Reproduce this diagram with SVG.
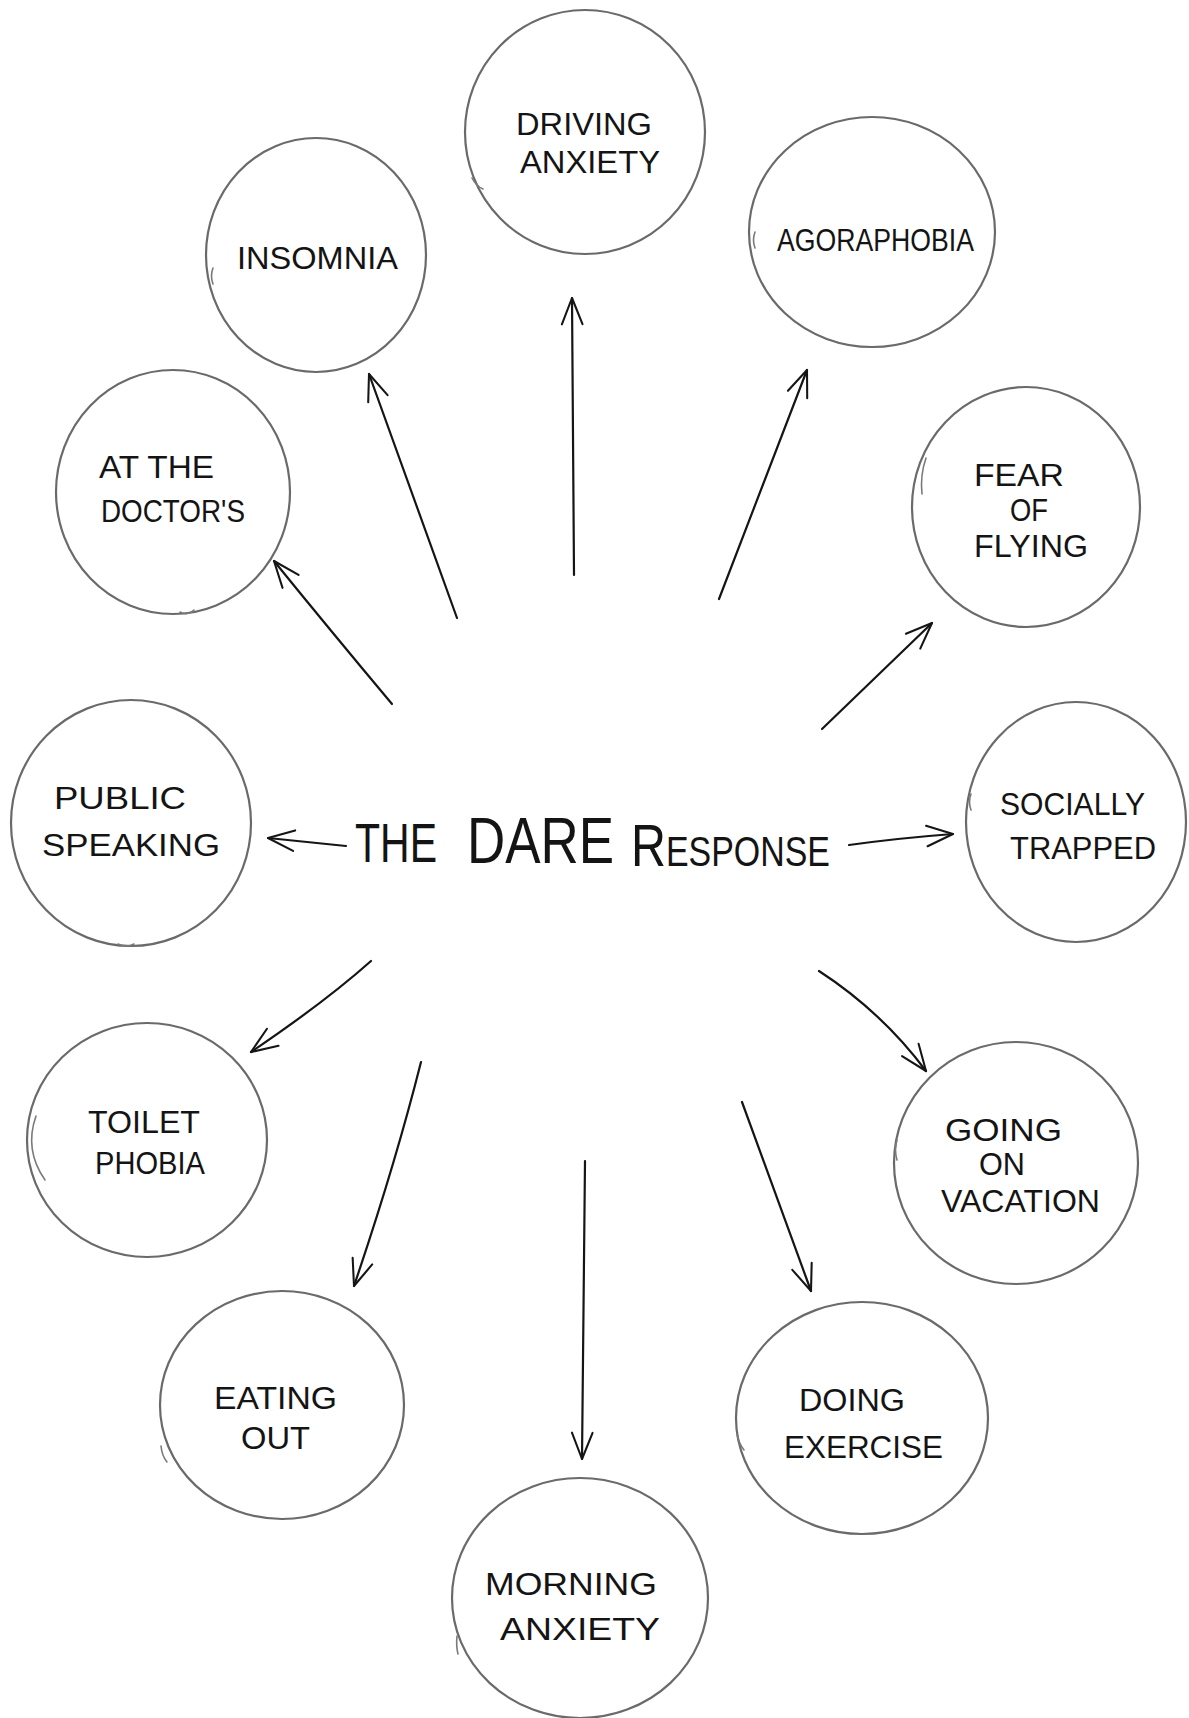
<svg xmlns="http://www.w3.org/2000/svg" width="1189" height="1718" viewBox="0 0 1189 1718">
<style>
  .bg { fill: #ffffff; }
  .circ { fill: none; stroke: #6a6a6a; stroke-width: 2.2; }
  .tick { fill: none; stroke: #7a7a7a; stroke-width: 1.6; stroke-linecap: round; }
  .lbl { font-family: "Liberation Sans", Arial, sans-serif; font-size: 31px; fill: #141414; }
  .title { font-family: "Liberation Sans", Arial, sans-serif; fill: #141414; }
  .sc { font-variant: small-caps; }
  .conn { fill: none; stroke: #151515; stroke-width: 2.2; stroke-linecap: round; marker-end: url(#ah); }
</style>
<defs>
  <marker id="ah" markerUnits="userSpaceOnUse" markerWidth="40" markerHeight="30" viewBox="-32 -16 40 32" refX="0" refY="0" orient="auto" overflow="visible">
    <path d="M-28,-11 L0,0 L-28,11" fill="none" stroke="#151515" stroke-width="2.2" stroke-linecap="round" stroke-linejoin="round"/>
  </marker>
</defs>
<rect class="bg" x="0" y="0" width="1189" height="1718"/>

<g id="connectors">
  <path class="conn" d="M574,575 L572,298"/>
  <path class="conn" d="M457,618 L369,374"/>
  <path class="conn" d="M719,599 L807,370"/>
  <path class="conn" d="M392,704 Q330,630 274,561"/>
  <path class="conn" d="M822,729 L932,623"/>
  <path class="conn" d="M346,846 L268,838"/>
  <path class="conn" d="M849,845 Q900,838 953,834"/>
  <path class="conn" d="M371,961 Q325,1002 251,1052"/>
  <path class="conn" d="M421,1062 Q395,1165 354,1286"/>
  <path class="conn" d="M585,1161 L582,1459"/>
  <path class="conn" d="M742,1102 L811,1291"/>
  <path class="conn" d="M819,971 Q882,1012 926,1071"/>
</g>

<g id="center">
  <text class="title"><tspan x="355" y="862" font-size="56" textLength="82" lengthAdjust="spacingAndGlyphs">THE</tspan> <tspan x="467" y="863" font-size="64" textLength="147" lengthAdjust="spacingAndGlyphs">DARE</tspan> <tspan class="sc" x="631" y="866" font-size="60" textLength="199" lengthAdjust="spacingAndGlyphs">Response</tspan></text>
</g>

<g id="driving-anxiety">
  <ellipse class="circ" cx="585" cy="132" rx="120" ry="122"/>
  <path class="tick" d="M472,178 Q476,186 483,189"/>
  <text class="lbl" x="516" y="135" textLength="136" lengthAdjust="spacingAndGlyphs">DRIVING</text>
  <text class="lbl" x="520" y="173" textLength="140" lengthAdjust="spacingAndGlyphs">ANXIETY</text>
</g>

<g id="insomnia">
  <ellipse class="circ" cx="316" cy="255" rx="110" ry="117"/>
  <path class="tick" d="M213,268 Q210,276 213,284"/>
  <text class="lbl" x="237" y="269" textLength="161" lengthAdjust="spacingAndGlyphs">INSOMNIA</text>
</g>

<g id="agoraphobia">
  <ellipse class="circ" cx="872" cy="232" rx="123" ry="115"/>
  <path class="tick" d="M755,232 Q752,240 755,248"/>
  <text class="lbl" x="777" y="251" textLength="197" lengthAdjust="spacingAndGlyphs">AGORAPHOBIA</text>
</g>

<g id="at-the-doctors">
  <ellipse class="circ" cx="173" cy="492" rx="117" ry="122"/>
  <path class="tick" d="M180,612 Q188,616 194,610"/>
  <text class="lbl" x="99" y="478" textLength="115" lengthAdjust="spacingAndGlyphs">AT THE</text>
  <text class="lbl" x="101" y="522" textLength="144" lengthAdjust="spacingAndGlyphs">DOCTOR'S</text>
</g>

<g id="fear-of-flying">
  <ellipse class="circ" cx="1026" cy="507" rx="114" ry="120"/>
  <path class="tick" d="M926,458 Q920,475 922,494"/>
  <text class="lbl" x="974" y="486" font-size="27" textLength="90" lengthAdjust="spacingAndGlyphs">FEAR</text>
  <text class="lbl" x="1010" y="521" font-size="21" textLength="38" lengthAdjust="spacingAndGlyphs">OF</text>
  <text class="lbl" x="974" y="557" font-size="29" textLength="114" lengthAdjust="spacingAndGlyphs">FLYING</text>
</g>

<g id="public-speaking">
  <ellipse class="circ" cx="131" cy="823" rx="120" ry="123"/>
  <path class="tick" d="M118,944 Q126,948 134,944"/>
  <text class="lbl" x="54" y="809" textLength="132" lengthAdjust="spacingAndGlyphs">PUBLIC</text>
  <text class="lbl" x="42" y="856" textLength="178" lengthAdjust="spacingAndGlyphs">SPEAKING</text>
</g>

<g id="socially-trapped">
  <ellipse class="circ" cx="1076" cy="822" rx="110" ry="120"/>
  <path class="tick" d="M971,794 Q968,802 971,810"/>
  <text class="lbl" x="1000" y="815" textLength="145" lengthAdjust="spacingAndGlyphs">SOCIALLY</text>
  <text class="lbl" x="1010" y="859" textLength="146" lengthAdjust="spacingAndGlyphs">TRAPPED</text>
</g>

<g id="toilet-phobia">
  <ellipse class="circ" cx="147" cy="1140" rx="120" ry="117"/>
  <path class="tick" d="M36,1116 Q24,1150 45,1180"/>
  <text class="lbl" x="88" y="1133" textLength="112" lengthAdjust="spacingAndGlyphs">TOILET</text>
  <text class="lbl" x="95" y="1174" textLength="110" lengthAdjust="spacingAndGlyphs">PHOBIA</text>
</g>

<g id="going-on-vacation">
  <ellipse class="circ" cx="1016" cy="1163" rx="122" ry="121"/>
  <path class="tick" d="M897,1140 Q894,1150 897,1160"/>
  <text class="lbl" x="945" y="1141" font-size="29" textLength="117" lengthAdjust="spacingAndGlyphs">GOING</text>
  <text class="lbl" x="979" y="1175" font-size="26" textLength="46" lengthAdjust="spacingAndGlyphs">ON</text>
  <text class="lbl" x="941" y="1212" font-size="30" textLength="159" lengthAdjust="spacingAndGlyphs">VACATION</text>
</g>

<g id="eating-out">
  <ellipse class="circ" cx="282" cy="1405" rx="122" ry="114"/>
  <path class="tick" d="M161,1446 Q162,1456 167,1462"/>
  <text class="lbl" x="214" y="1409" textLength="123" lengthAdjust="spacingAndGlyphs">EATING</text>
  <text class="lbl" x="241" y="1449" textLength="69" lengthAdjust="spacingAndGlyphs">OUT</text>
</g>

<g id="doing-exercise">
  <ellipse class="circ" cx="862" cy="1418" rx="126" ry="116"/>
  <path class="tick" d="M737,1434 Q739,1444 744,1450"/>
  <text class="lbl" x="799" y="1411" textLength="106" lengthAdjust="spacingAndGlyphs">DOING</text>
  <text class="lbl" x="784" y="1458" textLength="159" lengthAdjust="spacingAndGlyphs">EXERCISE</text>
</g>

<g id="morning-anxiety">
  <ellipse class="circ" cx="580" cy="1598" rx="128" ry="120"/>
  <path class="tick" d="M457,1636 Q456,1646 458,1654"/>
  <text class="lbl" x="485" y="1595" textLength="172" lengthAdjust="spacingAndGlyphs">MORNING</text>
  <text class="lbl" x="500" y="1640" textLength="160" lengthAdjust="spacingAndGlyphs">ANXIETY</text>
</g>
</svg>
